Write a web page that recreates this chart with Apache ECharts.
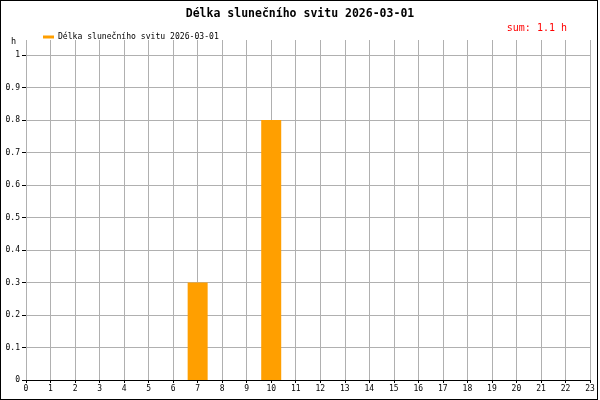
<!DOCTYPE html>
<html><head><meta charset="utf-8">
<script src="https://cdn.jsdelivr.net/npm/echarts@6/dist/echarts.min.js"></script>
<style>
html,body{margin:0;padding:0;background:#fff;}
#frame{position:absolute;left:0;top:0;width:598px;height:400px;box-sizing:border-box;border:1px solid #000;}
#c{position:absolute;left:0;top:0;width:600px;height:400px;}
</style></head>
<body><div id="frame"></div><div id="c"></div>
<script>
const titleText = 'Délka slunečního svitu 2026-03-01';
const seriesName = 'Délka slunečního svitu 2026-03-01';
const sumText = 'sum: 1.1 h';
const yName = 'h';
const hours = [0,1,2,3,4,5,6,7,8,9,10,11,12,13,14,15,16,17,18,19,20,21,22,23];
const sunshine = [0,0,0,0,0,0,0,0.3,0,0,0.8,0,0,0,0,0,0,0,0,0,0,0,0,0];

const mono = 'DejaVu Sans Mono';
const chart = echarts.init(document.getElementById('c'), null, {renderer:'canvas'});
chart.setOption({
  animation:false,
  backgroundColor:'transparent',
  title:[
    {text:titleText,left:'center',top:3,textStyle:{fontFamily:mono,fontSize:11.5,fontWeight:'bold',color:'#000'}},
    {text:sumText,right:28,top:18,textStyle:{fontFamily:mono,fontSize:10,fontWeight:'normal',color:'#ff0000'}}
  ],
  legend:{left:38,top:28,itemWidth:11,itemHeight:3,itemGap:4,icon:'rect',
    textStyle:{fontFamily:mono,fontSize:8.1,color:'#000',padding:[0,0,0,-1]},
    data:[{name:seriesName,icon:'rect'}]},
  grid:{left:26,right:10,top:40,bottom:20,containLabel:false},
  xAxis:{type:'value',min:0,max:23,interval:1,
    axisLine:{show:true,onZero:false,lineStyle:{color:'#000',width:1}},
    axisTick:{show:true,length:3,lineStyle:{color:'#000'}},
    axisLabel:{fontFamily:mono,fontSize:8,color:'#000',margin:5},
    splitLine:{show:true,lineStyle:{color:'#b0b0b0',width:1}}},
  yAxis:{type:'value',min:0,max:1.046,interval:0.1,name:yName,
    nameLocation:'end',nameGap:-6,
    nameTextStyle:{fontFamily:mono,fontSize:8.5,color:'#000',align:'right',padding:[0,10,0,0]},
    axisLine:{show:false},
    axisTick:{show:true,length:4,lineStyle:{color:'#000'}},
    axisLabel:{fontFamily:mono,fontSize:8,color:'#000',margin:6,showMaxLabel:false,
      formatter:v=>String(Math.round(v*10)/10)},
    splitLine:{show:true,showMaxLine:false,lineStyle:{color:'#b0b0b0',width:1}}},
  series:[{name:seriesName,type:'bar',barWidth:20,
    itemStyle:{color:'#ff9f00'},
    data:hours.map((h,i)=>[h,sunshine[i]])}]
});
</script></body></html>
